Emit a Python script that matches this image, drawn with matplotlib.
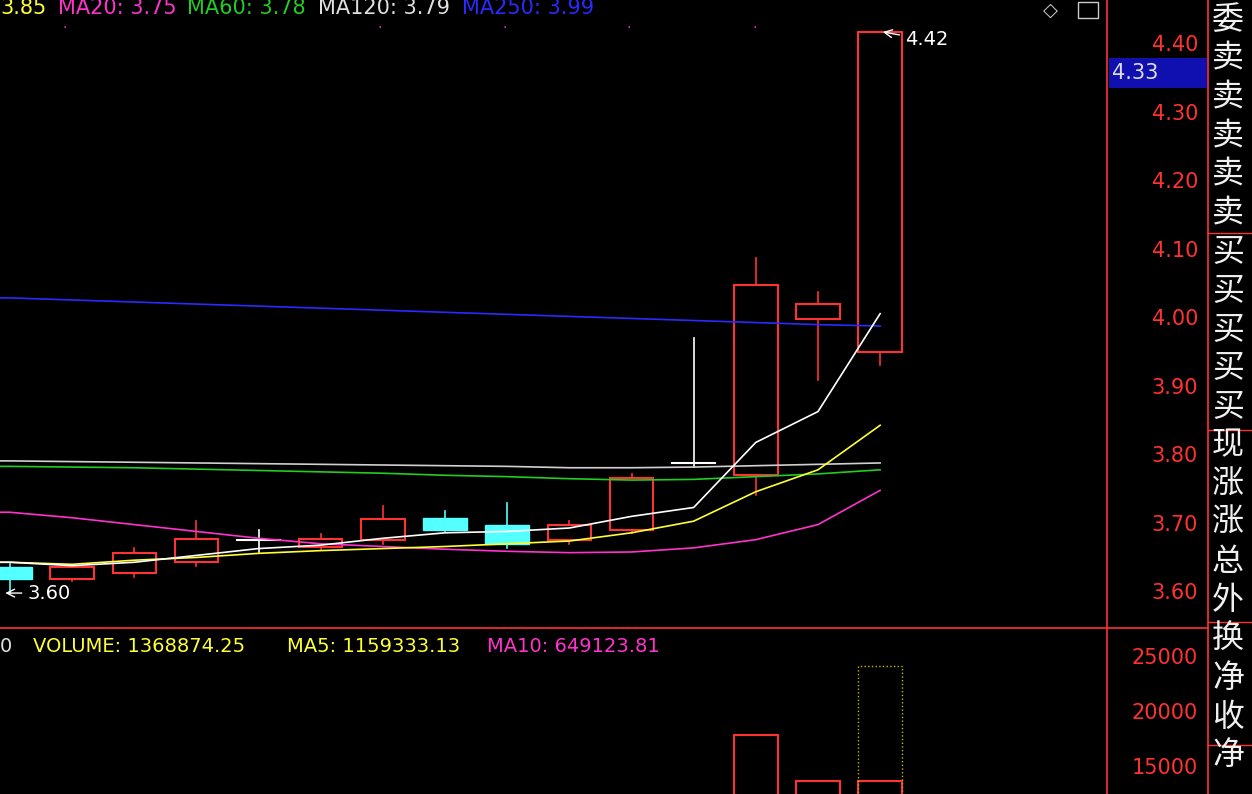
import matplotlib
matplotlib.use("Agg")
import matplotlib.pyplot as plt
from matplotlib.patches import Rectangle

plt.rcParams['font.family'] = ['DejaVu Sans', 'Noto Sans CJK SC']

opens  = [3.638, 3.620, 3.629, 3.645, 3.677, 3.668, 3.677, 3.709, 3.700, 3.677, 3.692, 3.790, 3.772, 4.000, 3.952]
closes = [3.620, 3.638, 3.658, 3.679, 3.677, 3.679, 3.708, 3.692, 3.672, 3.699, 3.768, 3.790, 4.050, 4.022, 4.420]
highs  = [3.642, 3.640, 3.666, 3.705, 3.692, 3.686, 3.727, 3.720, 3.731, 3.705, 3.774, 3.972, 4.089, 4.039, 4.420]
lows   = [3.600, 3.618, 3.623, 3.640, 3.660, 3.664, 3.672, 3.690, 3.666, 3.672, 3.688, 3.784, 3.743, 3.911, 3.933]
ma5   = [3.645, 3.640, 3.645, 3.655, 3.665, 3.670, 3.680, 3.688, 3.690, 3.695, 3.712, 3.725, 3.820, 3.865, 4.008]
ma10  = [3.645, 3.642, 3.648, 3.652, 3.658, 3.662, 3.665, 3.668, 3.672, 3.676, 3.688, 3.705, 3.748, 3.780, 3.845]
ma20  = [3.718, 3.710, 3.700, 3.690, 3.680, 3.672, 3.668, 3.664, 3.661, 3.659, 3.660, 3.666, 3.678, 3.700, 3.750]
ma60  = [3.785, 3.784, 3.783, 3.781, 3.779, 3.777, 3.775, 3.772, 3.770, 3.767, 3.765, 3.766, 3.770, 3.774, 3.780]
ma120 = [3.793, 3.792, 3.791, 3.790, 3.789, 3.788, 3.787, 3.786, 3.785, 3.783, 3.783, 3.784, 3.786, 3.788, 3.790]
ma250 = [4.031, 4.028, 4.025, 4.022, 4.019, 4.016, 4.013, 4.010, 4.007, 4.004, 4.001, 3.998, 3.995, 3.992, 3.990]
volumes = [6000, 5500, 6200, 7000, 5000, 5800, 7500, 6800, 7200, 6000, 9500, 8000, 18000, 13800, 13800]
vol_est = 24300
price_ticks = [4.40, 4.30, 4.20, 4.10, 4.00, 3.90, 3.80, 3.70, 3.60]
vol_ticks = [25000, 20000, 15000]
side_chars = ['委','卖','卖','卖','卖','卖','买','买','买','买','买','现','涨','涨','总','外','换','净','收','净']

W, H = 1252, 794
fig = plt.figure(figsize=(W/100, H/100), dpi=100, facecolor='black')
def fx(x): return x/W
def fy(y): return 1 - y/H

ax = fig.add_axes([0, fy(628), fx(1107), 628/H], facecolor='black')
axv = fig.add_axes([0, 0, fx(1107), 166/H], facecolor='black')
n = len(opens)
xs = list(range(n))
for a in (ax, axv):
    a.set_xlim(-0.16, 17.65)
    a.set_xticks([]); a.set_yticks([])
    for s in a.spines.values(): s.set_visible(False)
ax.set_ylim(3.549, 4.466)
axv.set_ylim(12636, 27727)

bw = 0.7
cyan = '#54ffff'; red = '#ff3232'
for i in xs:
    o, c, h, l = opens[i], closes[i], highs[i], lows[i]
    if abs(c - o) < 0.002:
        ax.plot([i, i], [l, h], color='white', lw=1.2, zorder=3)
        ax.plot([i-bw/2, i+bw/2], [o, o], color='white', lw=1.5, zorder=3)
    elif c > o:
        ax.plot([i, i], [c, h], color=red, lw=1.2, zorder=3)
        ax.plot([i, i], [l, o], color=red, lw=1.2, zorder=3)
        ax.add_patch(Rectangle((i-bw/2, o), bw, c-o, fill=True, facecolor='black', edgecolor=red, lw=1.5, zorder=3))
    else:
        ax.plot([i, i], [l, h], color=cyan, lw=1.2, zorder=3)
        ax.add_patch(Rectangle((i-bw/2, c), bw, o-c, facecolor=cyan, edgecolor=cyan, zorder=3))

for vals, col in [(ma250, '#2a2aff'), (ma120, '#d0d0d0'), (ma60, '#22cc22'), (ma20, '#ff33cc'), (ma10, '#ffff33'), (ma5, 'white')]:
    ax.plot([-0.16] + xs, [vals[0]] + vals, color=col, lw=1.2, zorder=4)

ax.annotate('4.42', xy=(14, 4.42), xytext=(14.4, 4.40), color='white', fontsize=14,
            arrowprops=dict(arrowstyle='->', color='white', lw=1))
ax.annotate('3.60', xy=(-0.12, 3.60), xytext=(0.28, 3.592), color='white', fontsize=14,
            arrowprops=dict(arrowstyle='->', color='white', lw=1))

for i in xs:
    if i >= 12:
        axv.add_patch(Rectangle((i-bw/2, 0), bw, volumes[i], facecolor='black', edgecolor=red, lw=1.5))
axv.add_patch(Rectangle((14-bw/2, 0), bw, vol_est, fill=False, edgecolor='#c8b400', lw=1, ls=':'))

fig.add_artist(plt.Line2D([0, fx(1208)], [fy(628), fy(628)], color=red, lw=1.2))
for xl in (1107, 1208):
    fig.add_artist(plt.Line2D([fx(xl), fx(xl)], [0, 1], color=red, lw=1.2))
for p in price_ticks:
    y = 45 + (4.40 - p) * 685
    fig.text(fx(1198), fy(y), f'{p:.2f}', color=red, fontsize=15, ha='right', va='center')
for v in vol_ticks:
    y = 658 + (25000 - v) / 5000 * 55
    fig.text(fx(1198), fy(y), f'{v}', color=red, fontsize=15, ha='right', va='center')
fig.add_artist(Rectangle((fx(1109), fy(88)), fx(98), 30/H, facecolor='#1010b0', edgecolor='none'))
fig.text(fx(1112), fy(73), '4.33', color='#dddddd', fontsize=15, va='center')

for k, ch in enumerate(side_chars):
    y = 20 + k * 38.7
    fig.text(fx(1212), fy(y), ch, color='#f0f0f0', fontsize=23, va='center', family='Noto Sans CJK SC')
for yl in (233, 430, 622, 745):
    fig.add_artist(plt.Line2D([fx(1208), 1], [fy(yl), fy(yl)], color=red, lw=1))

hdr = [(0, '3.85', '#ffff33'), (58, 'MA20: 3.75', '#ff33cc'), (187, 'MA60: 3.78', '#22cc22'),
       (318, 'MA120: 3.79', '#e0e0e0'), (462, 'MA250: 3.99', '#2a2aff')]
for x, t, c in hdr:
    fig.text(fx(x), fy(8), t, color=c, fontsize=15, va='center')
vh = [(0, '0', '#e0e0e0'), (33, 'VOLUME: 1368874.25', '#ffff33'), (287, 'MA5: 1159333.13', '#ffff33'),
      (487, 'MA10: 649123.81', '#ff33cc')]
for x, t, c in vh:
    fig.text(fx(x), fy(646), t, color=c, fontsize=14, va='center')
for x in (65, 380, 505, 629, 755):
    fig.text(fx(x), fy(28), '·', color='#ff33cc', fontsize=10, ha='center', va='center')
fig.text(fx(1050), fy(10), '◇', color='#cccccc', fontsize=14, ha='center', va='center')
fig.add_artist(Rectangle((fx(1078), fy(18)), fx(20), 16/H, fill=False, edgecolor='#cccccc', lw=1))

fig.savefig('out.png', dpi=100, facecolor='black')
